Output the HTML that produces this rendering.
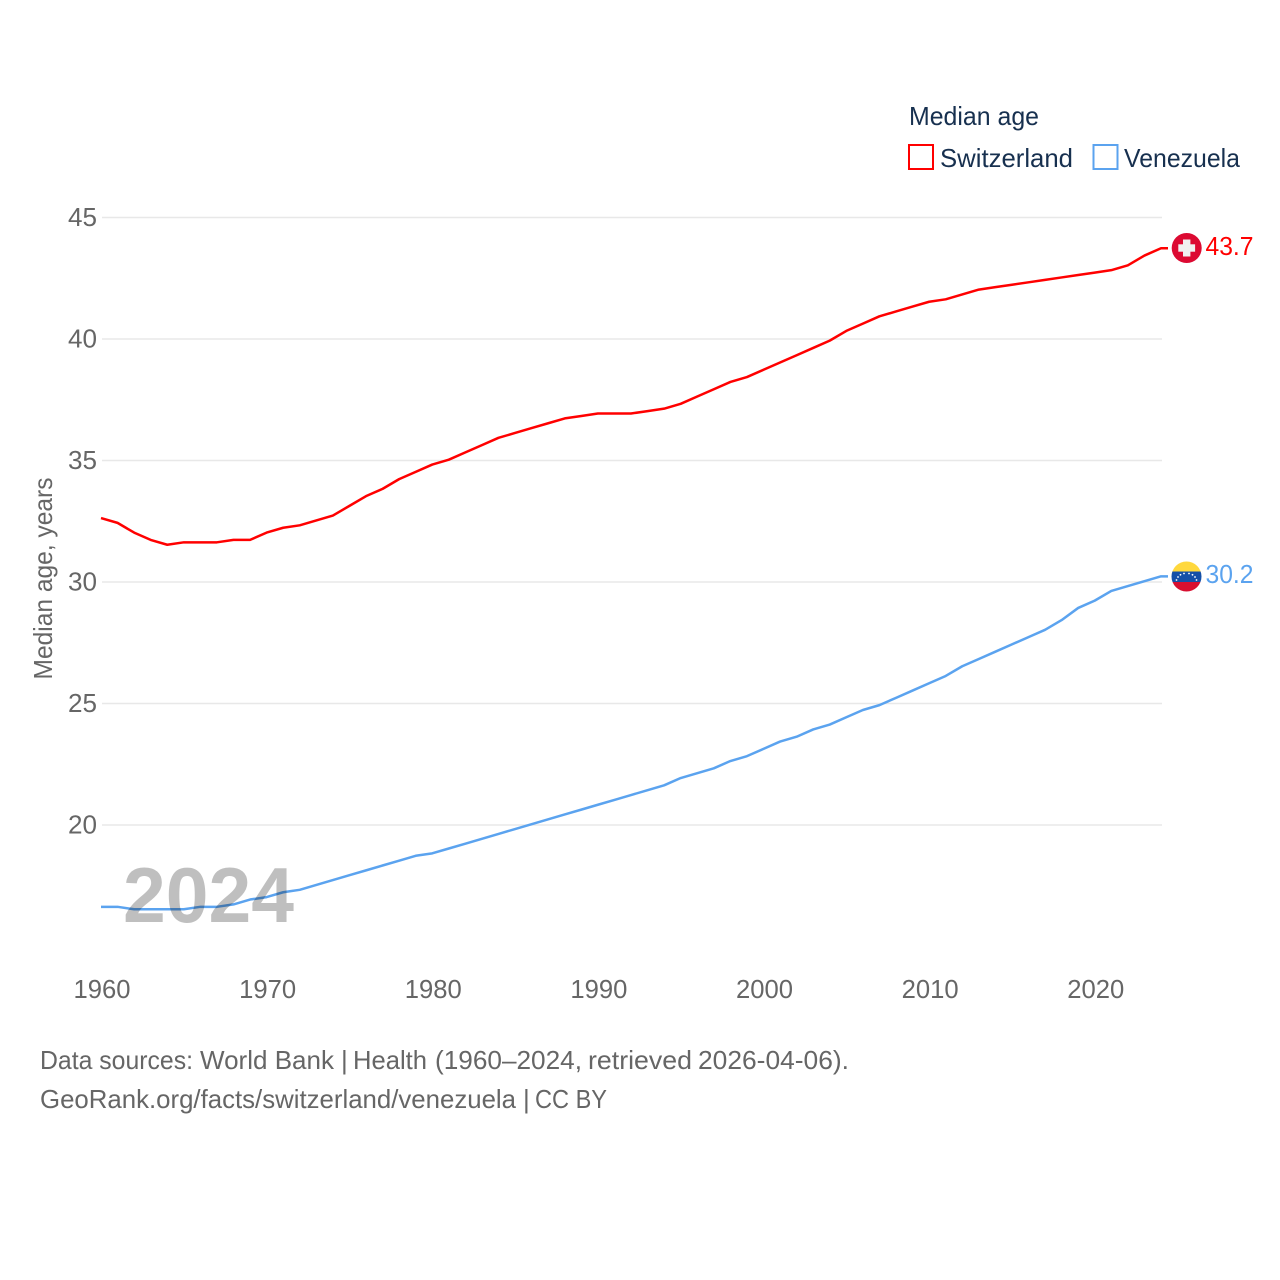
<!DOCTYPE html>
<html lang="en">
<head>
<meta charset="utf-8">
<title>Median age: Switzerland and Venezuela</title>
<style>
html,body{margin:0;padding:0;background:#fff;width:1280px;height:1280px;overflow:hidden}
svg{display:block}
text{font-family:"Liberation Sans",sans-serif}
</style>
</head>
<body>
<svg id="chart" xmlns="http://www.w3.org/2000/svg" width="1280" height="1280" viewBox="0 0 1280 1280">
  <rect width="1280" height="1280" fill="#fff"/>
  <g id="grid"></g>
  <g id="yticks"></g>
  <g id="xticks"></g>
  <g id="series"></g>

  <text x="123" y="922" font-size="78" font-weight="700" fill="#000" fill-opacity="0.25" textLength="171" lengthAdjust="spacingAndGlyphs">2024</text>

  <text transform="translate(52,679.500) rotate(-90)" font-size="26" fill="#666" textLength="202" lengthAdjust="spacingAndGlyphs">Median age, years</text>

  <g>
    <text x="909" y="125" font-size="26" fill="#17304f" textLength="130" lengthAdjust="spacingAndGlyphs">Median age</text>
    <rect x="909" y="145" width="24" height="24" fill="none" stroke="#ff0000" stroke-width="2"/>
    <text x="940" y="167" font-size="26" fill="#17304f" textLength="133" lengthAdjust="spacingAndGlyphs">Switzerland</text>
    <rect x="1093.500" y="145" width="24" height="24" fill="none" stroke="#5ba3ef" stroke-width="2"/>
    <text x="1124" y="167" font-size="26" fill="#17304f" textLength="116" lengthAdjust="spacingAndGlyphs">Venezuela</text>
  </g>

  <defs>
    <clipPath id="flagClipVe"><circle cx="1186.500" cy="576.500" r="15"/></clipPath>
  </defs>
  <g id="flag-ch">
    <circle cx="1186.700" cy="248" r="15" fill="#dc0a32"/>
    <rect x="1183" y="239.500" width="7.400" height="17" fill="#f0f0f0"/>
    <rect x="1178.300" y="244.300" width="16.800" height="7.400" fill="#f0f0f0"/>
  </g>
  <g id="flag-ve" clip-path="url(#flagClipVe)">
    <rect x="1171" y="561" width="31" height="10.500" fill="#ffd83d"/>
    <rect x="1171" y="571.500" width="31" height="10.500" fill="#1450a8"/>
    <rect x="1171" y="582" width="31" height="10" fill="#d80f30"/>
    <g fill="#fff">
      <circle cx="1176.500" cy="580" r="0.9"/><circle cx="1178" cy="577" r="0.9"/><circle cx="1180.500" cy="574.800" r="0.9"/><circle cx="1184" cy="573.500" r="0.9"/><circle cx="1189" cy="573.500" r="0.9"/><circle cx="1192.500" cy="574.800" r="0.9"/><circle cx="1195" cy="577" r="0.9"/><circle cx="1196.500" cy="580" r="0.9"/>
    </g>
  </g>
  <text id="label-ch" x="1205.500" y="255" font-size="26" fill="#ff0000" textLength="48" lengthAdjust="spacingAndGlyphs">43.7</text>
  <text id="label-ve" x="1205.500" y="583" font-size="26" fill="#5ba3ef" textLength="48" lengthAdjust="spacingAndGlyphs">30.2</text>

  <g font-size="26" fill="#666">
    <text y="1069">
      <tspan x="40" textLength="153" lengthAdjust="spacingAndGlyphs">Data sources:</tspan>
      <tspan x="200" textLength="134" lengthAdjust="spacingAndGlyphs">World Bank</tspan>
      <tspan x="341">|</tspan>
      <tspan x="353" textLength="74" lengthAdjust="spacingAndGlyphs">Health</tspan>
      <tspan x="435" textLength="147" lengthAdjust="spacingAndGlyphs">(1960–2024,</tspan>
      <tspan x="588" textLength="104" lengthAdjust="spacingAndGlyphs">retrieved</tspan>
      <tspan x="698" textLength="151" lengthAdjust="spacingAndGlyphs">2026-04-06).</tspan>
    </text>
    <text y="1108">
      <tspan x="40" textLength="476" lengthAdjust="spacingAndGlyphs">GeoRank.org/facts/switzerland/venezuela</tspan>
      <tspan x="523">|</tspan>
      <tspan x="535" textLength="72" lengthAdjust="spacingAndGlyphs">CC BY</tspan>
    </text>
  </g>
</svg>
<script>
const startYear = 1960;
const yTickValues = [20, 25, 30, 35, 40, 45];
const xTickValues = [1960, 1970, 1980, 1990, 2000, 2010, 2020];
const switzerlandValues = [32.6,32.4,32.0,31.7,31.5,31.6,31.6,31.6,31.7,31.7,32.0,32.2,32.3,32.5,32.7,33.1,33.5,33.8,34.2,34.5,34.8,35.0,35.3,35.6,35.9,36.1,36.3,36.5,36.7,36.8,36.9,36.9,36.9,37.0,37.1,37.3,37.6,37.9,38.2,38.4,38.7,39.0,39.3,39.6,39.9,40.3,40.6,40.9,41.1,41.3,41.5,41.6,41.8,42.0,42.1,42.2,42.3,42.4,42.5,42.6,42.7,42.8,43.0,43.4,43.7];
const venezuelaValues = [16.6,16.6,16.5,16.5,16.5,16.5,16.6,16.6,16.7,16.9,17.0,17.2,17.3,17.5,17.7,17.9,18.1,18.3,18.5,18.7,18.8,19.0,19.2,19.4,19.6,19.8,20.0,20.2,20.4,20.6,20.8,21.0,21.2,21.4,21.6,21.9,22.1,22.3,22.6,22.8,23.1,23.4,23.6,23.9,24.1,24.4,24.7,24.9,25.2,25.5,25.8,26.1,26.5,26.8,27.1,27.4,27.7,28.0,28.4,28.9,29.2,29.6,29.8,30.0,30.2];

const NS = 'http://www.w3.org/2000/svg';
function xScale(year) { return 102 + (year - 1960) * (1162 - 102) / 64; }
function yScale(v) { return 825 - (v - 20) * (825 - 217.5) / 25; }
function make(tag, attrs) {
  const el = document.createElementNS(NS, tag);
  for (const k in attrs) el.setAttribute(k, attrs[k]);
  return el;
}
const grid = document.getElementById('grid');
const yticks = document.getElementById('yticks');
const xticks = document.getElementById('xticks');
const series = document.getElementById('series');
series.setAttribute('transform', 'translate(-1,-0.8)');

yTickValues.forEach(function (v) {
  const line = make('line', {x1: 102, x2: 1162, y1: yScale(v), y2: yScale(v), stroke: '#e8e8e8', 'stroke-width': 1.5});
  
  
  grid.appendChild(line);
  const label = make('text', {x: 97, y: yScale(v) + 8.5, 'font-size': 26, fill: '#666', 'text-anchor': 'end', textLength: 29, lengthAdjust: 'spacingAndGlyphs'});
  
  
  label.textContent = String(v);
  yticks.appendChild(label);
});

xTickValues.forEach(function (year) {
  const label = make('text', {x: xScale(year), y: 998, 'font-size': 26, fill: '#666', 'text-anchor': 'middle', textLength: 57, lengthAdjust: 'spacingAndGlyphs'});
  
  
  label.textContent = String(year);
  xticks.appendChild(label);
});

function drawSeries(values, color, name) {
  const pts = values.map(function (v, i) {
    return xScale(startYear + i).toFixed(2) + ',' + yScale(v).toFixed(2);
  });
  const lastY = yScale(values[values.length - 1]).toFixed(2);
  pts.push((xScale(startYear + values.length - 1) + 7).toFixed(2) + ',' + lastY);
  const line = make('polyline', {points: pts.join(' '), fill: 'none', stroke: color, 'stroke-width': 2.5, 'stroke-linejoin': 'round'});
  
  
  series.appendChild(line);
}
drawSeries(switzerlandValues, '#ff0000', 'line-switzerland');
drawSeries(venezuelaValues, '#5ba3ef', 'line-venezuela');
</script>
</body>
</html>
